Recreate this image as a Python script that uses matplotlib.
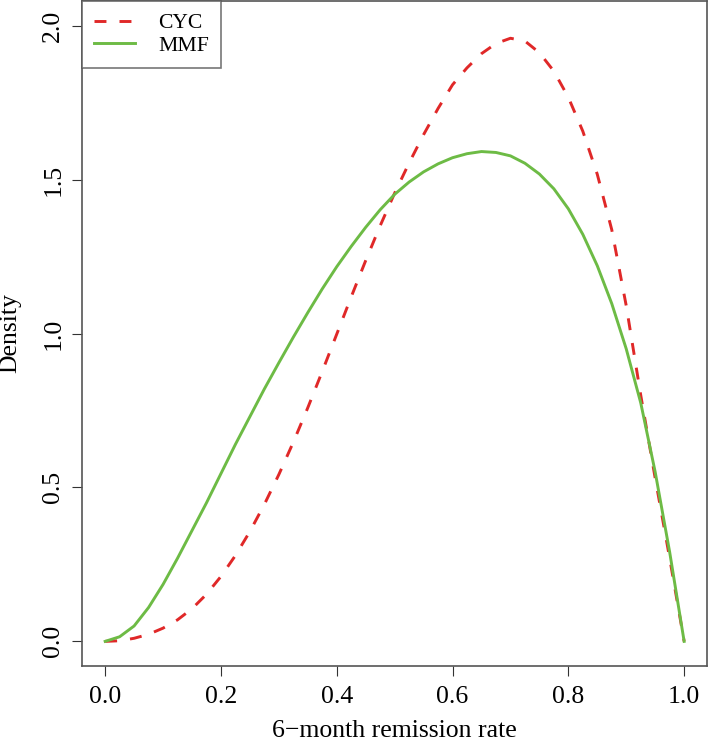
import matplotlib
matplotlib.use("Agg")
import matplotlib.pyplot as plt

# curvas de densidad (paso 0.025)
x_vals = [0.0, 0.025, 0.05, 0.075, 0.1, 0.125, 0.15, 0.175, 0.2, 0.225,
          0.25, 0.275, 0.3, 0.325, 0.35, 0.375, 0.4, 0.425, 0.45, 0.475,
          0.5, 0.525, 0.55, 0.575, 0.6, 0.625, 0.65, 0.675, 0.7, 0.725,
          0.75, 0.775, 0.8, 0.825, 0.85, 0.875, 0.9, 0.925, 0.95, 0.975, 1.0]
cyc = [0.0, 0.002, 0.01, 0.023, 0.043, 0.07, 0.106, 0.153, 0.211, 0.279,
       0.357, 0.445, 0.542, 0.647, 0.759, 0.877, 0.998, 1.119, 1.237, 1.35,
       1.456, 1.554, 1.646, 1.731, 1.808, 1.863, 1.909, 1.942, 1.959, 1.95,
       1.912, 1.852, 1.767, 1.657, 1.517, 1.337, 1.09, 0.80, 0.53, 0.27, 0.0]
mmf = [0.0, 0.015, 0.05, 0.11, 0.185, 0.27, 0.36, 0.45, 0.545, 0.64,
       0.73, 0.82, 0.905, 0.988, 1.068, 1.145, 1.217, 1.283, 1.345, 1.402,
       1.452, 1.492, 1.525, 1.551, 1.571, 1.584, 1.591, 1.588, 1.577, 1.553,
       1.518, 1.47, 1.405, 1.322, 1.22, 1.097, 0.95, 0.775, 0.55, 0.29, 0.0]
series_names = ["CYC", "MMF"]
x_ticks = [0.0, 0.2, 0.4, 0.6, 0.8, 1.0]
y_ticks = [0.0, 0.5, 1.0, 1.5, 2.0]

plt.rcParams["font.family"] = ["Liberation Serif", "DejaVu Serif"]
plt.rcParams["lines.scale_dashes"] = False

fig = plt.figure(figsize=(7.08, 7.43), dpi=100)
ax = fig.add_axes([82 / 708, 77 / 743, 625.3 / 708, 665 / 743])

ax.plot(x_vals, cyc, color="#E02828", lw=2.1, dashes=(8.6, 9.4), label=series_names[0])
ax.plot(x_vals, mmf, color="#6DBB45", lw=2.1, label=series_names[1])

ax.set_xlim(-0.04, 1.04)
ax.set_ylim(-0.08, 2.08)
ax.set_xticks(x_ticks)
ax.set_yticks(y_ticks)
ax.set_xticklabels([f"{v:.1f}" for v in x_ticks])
ax.set_yticklabels([f"{v:.1f}" for v in y_ticks], rotation=90, va="center")
ax.tick_params(labelsize=18.5, length=7.2, width=0.8, color="#333333", pad=7.5)
ax.tick_params(axis="y", pad=5.5)
for s in ax.spines.values():
    s.set_color("#555555")
    s.set_linewidth(1.2)

fig.text(394 / 708, 1 - 737 / 743, "6\u2212month remission rate", fontsize=18.5,
         ha="center", va="baseline")
fig.text(10 / 708, 1 - 333 / 743, "Density", fontsize=18.5, rotation=90,
         ha="center", va="center")

leg = ax.legend(loc="upper left", fontsize=15.6, frameon=True, fancybox=False,
                borderaxespad=0, handlelength=1.9, handletextpad=1.05,
                borderpad=0.55, labelspacing=0.12)
leg.get_frame().set_edgecolor("#555555")
leg.get_frame().set_linewidth(1.2)

fig.savefig("out.png", dpi=100)
